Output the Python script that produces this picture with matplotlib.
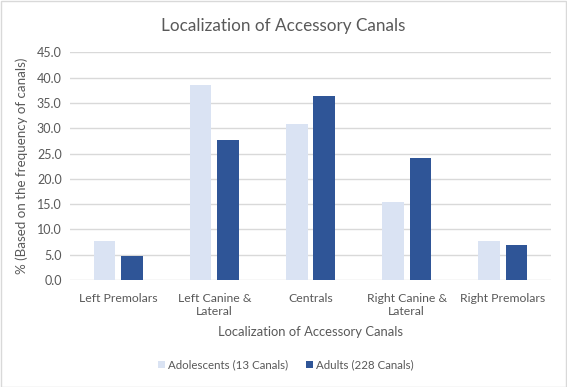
import numpy as np
import matplotlib.pyplot as plt
from matplotlib.patches import Rectangle

categories = ["Left Premolars", "Left Canine &\nLateral", "Centrals",
              "Right Canine &\nLateral", "Right Premolars"]
adolescents = [7.7, 38.5, 30.8, 15.4, 7.7]
adults = [4.8, 27.6, 36.4, 24.1, 7.0]
series_names = ["Adolescents (13 Canals)", "Adults (228 Canals)"]
yticks = np.arange(0, 46, 5)

plt.rcParams['font.family'] = ['Lato', 'DejaVu Sans']
grey = "#595959"

fig = plt.figure(figsize=(5.67, 3.87), dpi=100)
W, H = 567, 387
ax = fig.add_axes([70/W, 1-280/H, (551-70)/W, (280-52.3)/H])

x = np.arange(len(categories))
w = 0.225
ax.bar(x - 0.143, adolescents, w, color="#DAE3F3", label=series_names[0], zorder=3)
ax.bar(x + 0.143, adults, w, color="#2F5597", label=series_names[1], zorder=3)

ax.set_xlim(-0.5, len(categories) - 0.5)
ax.set_ylim(0, 45)
ax.set_yticks(yticks)
ax.set_yticklabels([f"{v:.1f}" for v in yticks], color=grey, fontsize=9)
ax.set_xticks(x)
ax.set_xticklabels(categories, color=grey, fontsize=8.8, linespacing=1.3)
ax.tick_params(length=0, pad=6)
ax.tick_params(axis='x', pad=9)
ax.grid(axis='y', color="#D9D9D9", linewidth=1, zorder=0)
for s in ax.spines.values():
    s.set_visible(False)

ax.set_xlabel("Localization of Accessory Canals", color=grey, fontsize=9.4, labelpad=6)
ax.set_ylabel("% (Based on the frequency of canals)", color=grey, fontsize=9.6, labelpad=6)
fig.text(0.5, 1-26/H, "Localization of Accessory Canals", ha="center", va="center",
         color=grey, fontsize=12.3)

fig.legend(loc="center", bbox_to_anchor=(286/W, 1-365/H), ncol=2, frameon=False,
           fontsize=8.3, handlelength=0.6, handleheight=0.6, columnspacing=1.5,
           handletextpad=0.3, labelcolor=grey)

fig.patches.append(Rectangle((0.5/W, 0.5/H), 1-1.5/W, 1-1.5/H, transform=fig.transFigure,
                             fill=False, edgecolor="#D9D9D9", linewidth=1))
fig.savefig("out.png", dpi=100)
